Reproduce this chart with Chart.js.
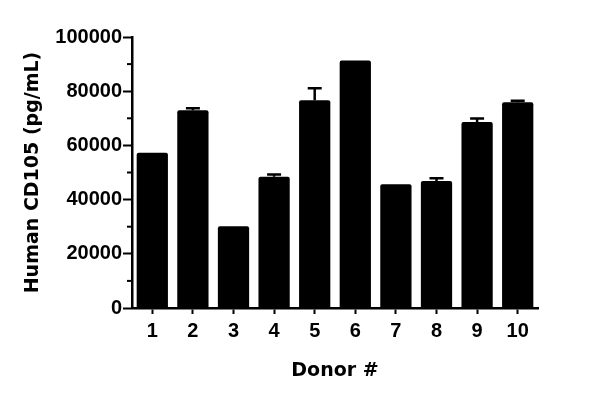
<!DOCTYPE html>
<html>
<head>
<meta charset="utf-8">
<script src="https://cdn.jsdelivr.net/npm/chart.js@4/dist/chart.umd.min.js"></script>
<style>
  html, body { margin: 0; padding: 0; background: #fff; }
  #wrap { width: 600px; height: 400px; }
</style>
</head>
<body>
<div id="wrap"><canvas id="Chart" width="600" height="400"></canvas></div>
<script>
// data
var donors = ['1', '2', '3', '4', '5', '6', '7', '8', '9', '10'];
var cd105 = [57300, 73000, 30200, 48400, 76700, 91300, 45700, 46900, 68600, 75900];
var cd105Err = [0, 700, 0, 900, 4400, 0, 0, 1000, 1300, 600];
var yTicks = [0, 20000, 40000, 60000, 80000, 100000];

var TICK_FONT = { family: '"Liberation Sans", Arial, sans-serif', size: 20, weight: 'bold' };
var TITLE_FONT = { family: '"DejaVu Sans", sans-serif', size: 19, weight: 'bold' };

// error bars (upper half only) + short minor ticks on the y axis
var extras = {
    id: 'extras',
    afterDatasetsDraw: function(chart) {
        var c = chart.ctx;
        var y = chart.scales.y;
        var bars = chart.getDatasetMeta(0).data;
        c.save();
        c.strokeStyle = '#000';
        c.lineWidth = 2.5;
        bars.forEach(function(bar, i) {
            if (!cd105Err[i]) return;
            var top = y.getPixelForValue(cd105[i] + cd105Err[i]);
            c.beginPath();
            c.moveTo(bar.x, bar.y);
            c.lineTo(bar.x, top);
            c.moveTo(bar.x - 7, top);
            c.lineTo(bar.x + 7, top);
            c.stroke();
        });
        // minor ticks
        var left = chart.chartArea.left;
        c.lineWidth = 2;
        for (var v = 10000; v < 100000; v += 20000) {
            var py = y.getPixelForValue(v);
            c.beginPath();
            c.moveTo(left - 5, py);
            c.lineTo(left, py);
            c.stroke();
        }
        c.restore();
    }
};

var ctx = document.getElementById('Chart').getContext('2d');
var myChart = new Chart(ctx, {
    type: 'bar',
    data: {
        labels: donors,
        datasets: [{
            data: cd105,
            backgroundColor: '#000',
            borderWidth: 0,
            borderRadius: 2,
            barPercentage: 0.77,
            categoryPercentage: 1
        }]
    },
    options: {
        responsive: false,
        animation: false,
        devicePixelRatio: 1,
        layout: { padding: { left: 0, right: 62, top: 37, bottom: 0 } },
        plugins: { legend: { display: false }, tooltip: { enabled: false } },
        scales: {
            x: {
                afterFit: function(s) { s.height = 92; },
                border: { width: 2.5, color: '#000' },
                grid: { drawOnChartArea: false, offset: false, tickLength: 6, tickWidth: 2, tickColor: '#000' },
                ticks: { color: '#000', padding: 5, font: TICK_FONT },
                title: {
                    display: true, text: 'Donor #', color: '#000',
                    padding: { bottom: 18 },
                    font: TITLE_FONT
                }
            },
            y: {
                min: 0,
                max: 100000,
                afterFit: function(s) { s.width = 132; },
                afterBuildTicks: function(s) {
                    s.ticks = yTicks.map(function(v) { return { value: v }; });
                },
                border: { width: 2.5, color: '#000' },
                grid: { drawOnChartArea: false, tickLength: 9, tickWidth: 2, tickColor: '#000' },
                ticks: {
                    color: '#000', padding: 1, font: TICK_FONT,
                    callback: function(value) { return String(value); }
                },
                title: {
                    display: true, text: 'Human CD105 (pg/mL)', color: '#000',
                    padding: { top: 22 },
                    font: TITLE_FONT
                }
            }
        }
    },
    plugins: [extras]
});
</script>
</body>
</html>
